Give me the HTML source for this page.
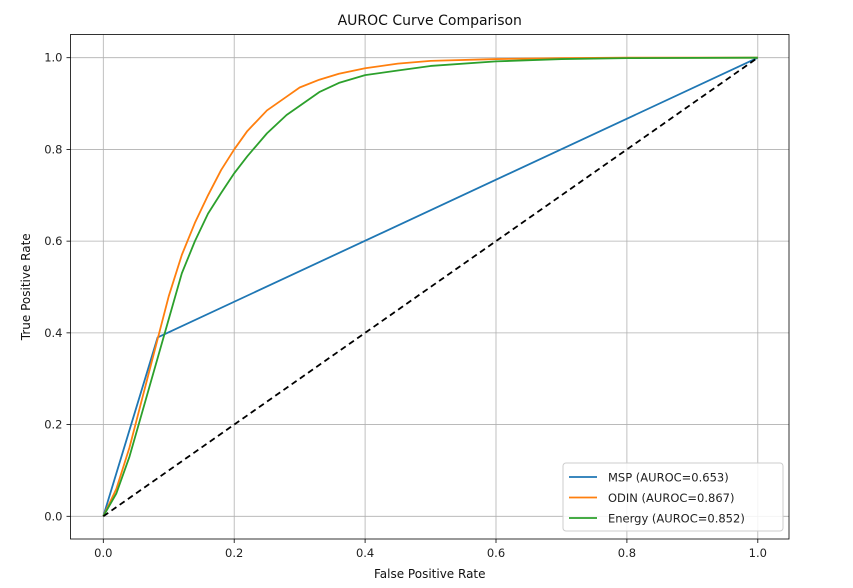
<!DOCTYPE html>
<html><head><meta charset="utf-8"><style>
body{margin:0;background:#fff;font-family:"DejaVu Sans","Liberation Sans",sans-serif}
</style></head><body>
<svg id="c" width="853" height="588" style="display:block;font-family:'DejaVu Sans','Liberation Sans',sans-serif"></svg>
<script>
const xVals=[0,0.02,0.04,0.06,0.08,0.1,0.12,0.14,0.16,0.18,0.2,0.22,0.25,0.28,0.3,0.33,0.36,0.4,0.45,0.5,0.6,0.7,0.8,1];
const odinY=[0,0.06,0.15,0.26,0.37,0.48,0.57,0.64,0.70,0.755,0.80,0.84,0.885,0.915,0.935,0.952,0.965,0.977,0.987,0.993,0.997,0.999,1,1];
const energyY=[0,0.05,0.13,0.23,0.33,0.43,0.53,0.60,0.66,0.705,0.748,0.785,0.835,0.875,0.895,0.925,0.945,0.962,0.972,0.982,0.992,0.997,0.999,1];
const mspX=[0,0.083,1];
const mspY=[0,0.39,1];
const ticks=[0,0.2,0.4,0.6,0.8,1.0];
const tickLabels=["0.0","0.2","0.4","0.6","0.8","1.0"];
const seriesNames=["MSP (AUROC=0.653)","ODIN (AUROC=0.867)","Energy (AUROC=0.852)"];

const svg=document.getElementById('c');const NS='http://www.w3.org/2000/svg';
const L=70.5,R=789,T=34.5,B=539;
const X=v=>103.3+v*654.5, Y=v=>516.3-v*458.6;
function mk(t,a,p){const e=document.createElementNS(NS,t);for(const k in a)e.setAttribute(k,a[k]);(p||svg).appendChild(e);return e;}
ticks.forEach((t,i)=>{
 const g=mk('line',{x1:X(t),x2:X(t),y1:T,y2:B,stroke:'#b0b0b0','stroke-width':0.8});
 
 
 const h=mk('line',{x1:L,x2:R,y1:Y(t),y2:Y(t),stroke:'#b0b0b0','stroke-width':0.8});
 
 
 mk('line',{x1:X(t),x2:X(t),y1:B,y2:B+4,stroke:'#000','stroke-width':0.8});
 mk('line',{x1:L-4,x2:L,y1:Y(t),y2:Y(t),stroke:'#000','stroke-width':0.8});
 const xl=mk('text',{x:X(t),y:B+18,'text-anchor':'middle','font-size':11.5,fill:'#222'});xl.textContent=tickLabels[i];
 
 
 const yl=mk('text',{x:L-8,y:Y(t)+4,'text-anchor':'end','font-size':11.5,fill:'#222'});yl.textContent=tickLabels[i];
 
 
});
function line(xs,ys,col,name,dash){
 const p=mk('polyline',{points:xs.map((x,i)=>X(x)+','+Y(ys[i])).join(' '),fill:'none',stroke:col,'stroke-width':1.8,'stroke-linejoin':'round'});
 if(dash)p.setAttribute('stroke-dasharray',dash);
 
 
}
line(mspX,mspY,'#1f77b4','msp-line');
line(xVals,odinY,'#ff7f0e','odin-line');
line(xVals,energyY,'#2ca02c','energy-line');
line([0,1],[0,1],'#000','random-baseline','6,4');
const fr=mk('rect',{x:L,y:T,width:R-L,height:B-T,fill:'none',stroke:'#000','stroke-width':0.8});


const ti=mk('text',{x:(L+R)/2,y:25,'text-anchor':'middle','font-size':14,fill:'#111'});ti.textContent='AUROC Curve Comparison';


const xt=mk('text',{x:(L+R)/2,y:578,'text-anchor':'middle','font-size':12,fill:'#111'});xt.textContent='False Positive Rate';


const yt=mk('text',{x:0,y:0,'text-anchor':'middle','font-size':12,fill:'#111',transform:`translate(30,${(T+B)/2}) rotate(-90)`});yt.textContent='True Positive Rate';


const lg=mk('rect',{x:563,y:463,width:220,height:68,rx:3,fill:'#fff','fill-opacity':0.85,stroke:'#ccc'});


const cols=['#1f77b4','#ff7f0e','#2ca02c'];
seriesNames.forEach((n,i)=>{
 const y=477+i*20.5;
 mk('line',{x1:569,x2:597,y1:y,y2:y,stroke:cols[i],'stroke-width':1.8});
 const t=mk('text',{x:608,y:y+4.5,'font-size':11.5,fill:'#222'});t.textContent=n;
 
 
});
</script>
</body></html>
